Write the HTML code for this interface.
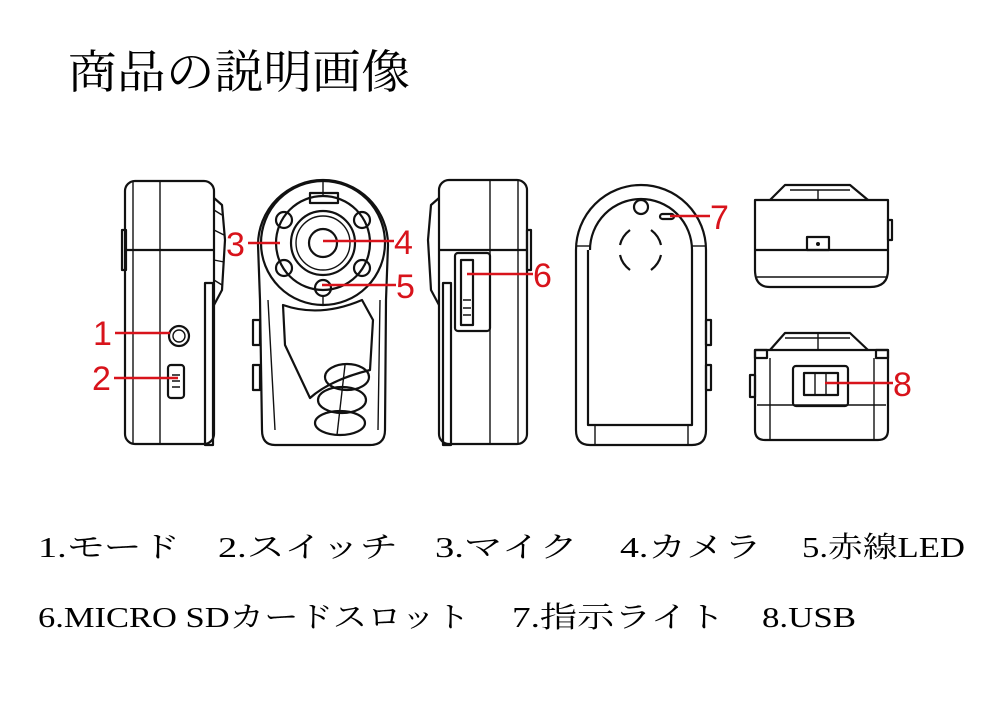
<!DOCTYPE html>
<html><head><meta charset="utf-8"><style>
html,body{margin:0;padding:0;background:#fff;}
svg{display:block}
.t{font-family:"Liberation Serif","Noto Serif CJK JP",serif;fill:#000}
.r{font-family:"Liberation Sans",sans-serif;fill:#d8131b;font-size:34px}
.k{fill:none;stroke:#111;stroke-width:2.2;stroke-linejoin:round}
.kt{fill:none;stroke:#111;stroke-width:1.4}
.rl{stroke:#d8131b;stroke-width:2.6}
</style></head><body>
<svg width="1000" height="705" viewBox="0 0 1000 705" xmlns="http://www.w3.org/2000/svg">
<text class="t" x="68" y="88" font-size="46" textLength="342" lengthAdjust="spacingAndGlyphs">商品の説明画像</text>

<!-- Device 1 side -->
<g>
<rect class="k" x="125" y="181" width="89" height="263" rx="10"/>
<line class="k" x1="125" y1="250" x2="214" y2="250"/>
<line class="kt" x1="133" y1="181" x2="133" y2="444"/>
<line class="kt" x1="160" y1="181" x2="160" y2="444"/>
<path class="k" d="M214 198 L222 205 L225 240 L222 290 L214 305"/>
<path class="kt" d="M214 210 L222 215 M214 230 L224 235 M214 260 L224 262 M214 280 L222 285"/>
<rect class="k" x="205" y="283" width="8" height="162"/>
<rect class="k" x="122" y="230" width="4" height="40"/>
<circle class="k" cx="179" cy="336" r="10"/>
<circle class="kt" cx="179" cy="336" r="6"/>
<rect class="k" x="168" y="365" width="16" height="33" rx="3"/>
<path class="kt" d="M172 375h8M172 381h8M172 387h8"/>
</g>
<text class="r" x="93" y="345">1</text><line class="rl" x1="115" y1="333" x2="170" y2="333"/>
<text class="r" x="92" y="390">2</text><line class="rl" x1="114" y1="378" x2="178" y2="378"/>

<!-- Device 2 front -->
<g>
<path class="k" d="M258 245 A65 65 0 0 1 388 245 L386 300 L385 430 Q385 445 370 445 L275 445 Q262 445 262 430 L260 300 Z"/>
<circle class="k" cx="323" cy="243" r="62"/>
<circle class="k" cx="323" cy="243" r="47"/>
<circle class="k" cx="323" cy="243" r="32"/>
<circle class="kt" cx="323" cy="243" r="27"/>
<circle class="k" cx="323" cy="243" r="14"/>
<g class="k">
<circle cx="284" cy="220" r="8"/><circle cx="362" cy="220" r="8"/>
<circle cx="284" cy="268" r="8"/><circle cx="362" cy="268" r="8"/>
<circle cx="323" cy="288" r="8"/>
</g>
<rect class="k" x="310" y="193" width="28" height="10"/>
<line class="kt" x1="323" y1="181" x2="323" y2="195"/>
<line class="kt" x1="323" y1="296" x2="323" y2="305"/>
<path class="k" d="M283 305 Q320 318 362 300 L373 320 L370 370 Q330 380 310 398 L285 345 Z"/>
<path class="kt" d="M268 300 L275 430 M380 300 L378 430"/>
<ellipse class="k" cx="347" cy="377" rx="22" ry="13"/>
<ellipse class="k" cx="342" cy="400" rx="24" ry="13"/>
<ellipse class="k" cx="340" cy="423" rx="25" ry="12"/>
<line class="kt" x1="345" y1="365" x2="337" y2="435"/>
<rect class="k" x="253" y="320" width="7" height="25"/>
<rect class="k" x="253" y="365" width="7" height="25"/>
</g>
<text class="r" x="226" y="256">3</text><line class="rl" x1="248" y1="243" x2="280" y2="243"/>
<text class="r" x="394" y="254">4</text><line class="rl" x1="323" y1="241" x2="394" y2="241"/>
<text class="r" x="396" y="298">5</text><line class="rl" x1="322" y1="285" x2="396" y2="285"/>

<!-- Device 3 side -->
<g>
<rect class="k" x="439" y="180" width="88" height="264" rx="10"/>
<line class="k" x1="439" y1="250" x2="527" y2="250"/>
<line class="kt" x1="490" y1="180" x2="490" y2="444"/>
<line class="kt" x1="518" y1="180" x2="518" y2="444"/>
<path class="k" d="M439 198 L431 205 L428 240 L431 290 L439 305"/>
<rect class="k" x="443" y="283" width="8" height="162"/>
<rect class="k" x="455" y="253" width="35" height="78" rx="3"/>
<rect class="k" x="461" y="260" width="12" height="65"/>
<path class="kt" d="M463 300h8M463 308h8M463 315h8"/>
<rect class="k" x="527" y="230" width="4" height="40"/>
</g>
<text class="r" x="533" y="287">6</text><line class="rl" x1="467" y1="274" x2="533" y2="274"/>

<!-- Device 4 back -->
<g>
<path class="k" d="M576 250 A65 65 0 0 1 706 250 L706 430 Q706 445 692 445 L590 445 Q576 445 576 430 Z"/>
<path class="k" d="M590 250 A51 51 0 0 1 692 250 L692 425 L588 425 L588 250"/>
<line class="kt" x1="576" y1="246" x2="590" y2="246"/><line class="kt" x1="692" y1="246" x2="706" y2="246"/>
<path class="kt" d="M595 425 V445 M688 425 V445"/>
<circle class="k" cx="641" cy="207" r="7"/>
<rect class="k" x="660" y="214" width="14" height="5" rx="2.5"/>
<path class="k" d="M630 230 Q622 236 620 245 M651 230 Q659 236 661 245 M620 255 Q622 264 630 270 M661 255 Q659 264 651 270"/>
<rect class="k" x="706" y="320" width="5" height="25"/><rect class="k" x="706" y="365" width="5" height="25"/>
</g>
<text class="r" x="710" y="229">7</text><line class="rl" x1="670" y1="216" x2="710" y2="216"/>

<!-- Device 5 top -->
<g>
<path class="k" d="M755 200 L888 200 L888 270 Q888 287 870 287 L770 287 Q755 287 755 270 Z"/>
<path class="k" d="M770 200 L785 185 L850 185 L868 200"/>
<path class="kt" d="M790 190 L850 190 M818 190 V200"/>
<line class="k" x1="755" y1="250" x2="888" y2="250"/>
<line class="kt" x1="757" y1="277" x2="886" y2="277"/>
<rect class="k" x="807" y="237" width="22" height="13"/>
<circle cx="818" cy="244" r="2" fill="#111"/>
<rect class="k" x="888" y="220" width="4" height="20"/>
</g>

<!-- Device 6 bottom -->
<g>
<path class="k" d="M755 350 L888 350 L888 430 Q888 440 878 440 L765 440 Q755 440 755 430 Z"/>
<path class="k" d="M770 350 L785 333 L850 333 L868 350"/>
<path class="kt" d="M785 338 L850 338 M818 333 V350"/>
<rect class="k" x="755" y="350" width="12" height="8"/><rect class="k" x="876" y="350" width="12" height="8"/>
<path class="kt" d="M770 358 V440 M874 358 V440 M757 405 H886"/>
<rect class="k" x="793" y="366" width="55" height="40" rx="3"/>
<rect class="k" x="804" y="373" width="34" height="22"/>
<path class="kt" d="M815 373 V395 M826 373 V395"/>
<rect class="k" x="750" y="375" width="5" height="22"/>
</g>
<text class="r" x="893" y="396">8</text><line class="rl" x1="825" y1="383" x2="893" y2="383"/>

<!-- legend -->
<g class="t" font-size="29">
<text x="38" y="557" textLength="142" lengthAdjust="spacingAndGlyphs">1.モード</text>
<text x="218" y="557" textLength="180" lengthAdjust="spacingAndGlyphs">2.スイッチ</text>
<text x="435" y="557" textLength="143" lengthAdjust="spacingAndGlyphs">3.マイク</text>
<text x="620" y="557" textLength="142" lengthAdjust="spacingAndGlyphs">4.カメラ</text>
<text x="802" y="557" textLength="163" lengthAdjust="spacingAndGlyphs">5.赤線LED</text>
<text x="38" y="627" textLength="432" lengthAdjust="spacingAndGlyphs">6.MICRO SDカードスロット</text>
<text x="512" y="627" textLength="213" lengthAdjust="spacingAndGlyphs">7.指示ライト</text>
<text x="762" y="627" textLength="94" lengthAdjust="spacingAndGlyphs">8.USB</text>
</g>
</svg>
</body></html>
